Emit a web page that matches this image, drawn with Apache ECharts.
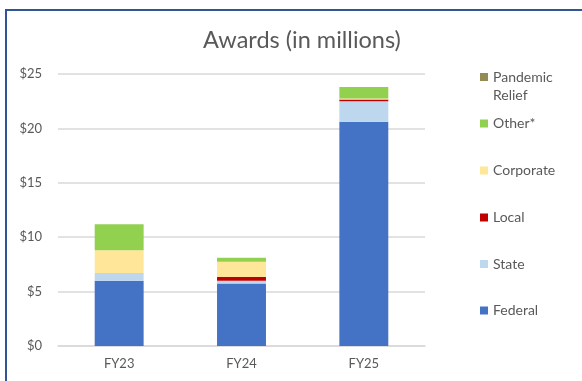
<!DOCTYPE html>
<html>
<head>
<meta charset="utf-8">
<script src="https://cdn.jsdelivr.net/npm/echarts@6/dist/echarts.min.js"></script>
<style>
  html, body { margin: 0; padding: 0; background: #fff; }
  #frame { position: absolute; left: 5px; top: 9px; width: 600px; height: 400px;
           border-left: 2px solid #2F5597; border-top: 2px solid #2F5597; }
  #chart { position: absolute; left: 0; top: 0; width: 582px; height: 381px; }
</style>
</head>
<body>
<div id="frame"></div>
<div id="chart"></div>
<script>
// Fiscal years shown on the category axis
const years = ['FY23', 'FY24', 'FY25'];

// Award amounts by funding source, in millions of dollars
const federal   = [6.0, 5.75, 20.6];
const state     = [0.7, 0.25, 1.9];
const local     = [0,   0.35, 0.15];
const corporate = [2.1, 1.4,  0.1];
const other     = [2.4, 0.35, 1.05];
const pandemic  = [0,   0,    0];

// Y-axis ticks
const yTicks = [0, 5, 10, 15, 20, 25];

const seriesDefs = [
  { name: 'Federal',         data: federal,   color: '#4472C4' },
  { name: 'State',           data: state,     color: '#BDD7EE' },
  { name: 'Local',           data: local,     color: '#C00000' },
  { name: 'Corporate',       data: corporate, color: '#FFE699' },
  { name: 'Other*',          data: other,     color: '#92D050' },
  { name: 'Pandemic Relief', data: pandemic,  color: '#948A54' }
];

const textColor = '#595959';
const font = 'Lato';

// One legend block per series, stacked top-to-bottom in reverse stack order
const legendCenters = [310.5, 264, 217.5, 170.5, 123.5, 77];
const legendPad = 5;
const legends = seriesDefs.map((s, i) => {
  const two = s.name === 'Pandemic Relief';
  const lh = 18;
  return {
    data: [s.name],
    left: 480 - legendPad,
    top: (two ? legendCenters[i] - lh * 1.5 : legendCenters[i] - 8) - legendPad,
    itemWidth: 8,
    itemHeight: 8,
    icon: 'rect',
    selectedMode: false,
    // blank first line keeps the swatch beside "Pandemic", with "Relief" wrapping below
    formatter: n => two ? ' \nPandemic\nRelief' : n,
    textStyle: two
      ? { color: textColor, fontSize: 14, fontFamily: font, lineHeight: lh }
      : { color: textColor, fontSize: 14, fontFamily: font, lineHeight: 16 }
  };
});

const chart = echarts.init(document.getElementById('chart'), null, { renderer: 'canvas' });
chart.setOption({
  animation: false,
  title: {
    text: 'Awards (in millions)',
    left: 297,
    top: 23,
    textAlign: 'center',
    textStyle: { color: textColor, fontSize: 23.5, fontWeight: 'normal', fontFamily: font }
  },
  legend: legends,
  grid: { left: 58, right: 157, top: 74, bottom: 35 },
  xAxis: {
    type: 'category',
    data: years,
    axisLine: { lineStyle: { color: '#d9d9d9', width: 1.5 } },
    axisTick: { show: false },
    axisLabel: { color: textColor, fontSize: 13, fontFamily: font, margin: 11 }
  },
  yAxis: {
    type: 'value',
    min: yTicks[0],
    max: yTicks[yTicks.length - 1],
    interval: yTicks[1] - yTicks[0],
    axisLine: { show: false },
    axisTick: { show: false },
    splitLine: { lineStyle: { color: '#d9d9d9', width: 1.5 } },
    axisLabel: { color: textColor, fontSize: 13, fontFamily: font, margin: 16,
                 formatter: v => '$' + v }
  },
  series: seriesDefs.map(s => ({
    name: s.name,
    type: 'bar',
    stack: 'awards',
    barWidth: '40%',
    data: s.data,
    itemStyle: { color: s.color }
  }))
});
</script>
</body>
</html>
